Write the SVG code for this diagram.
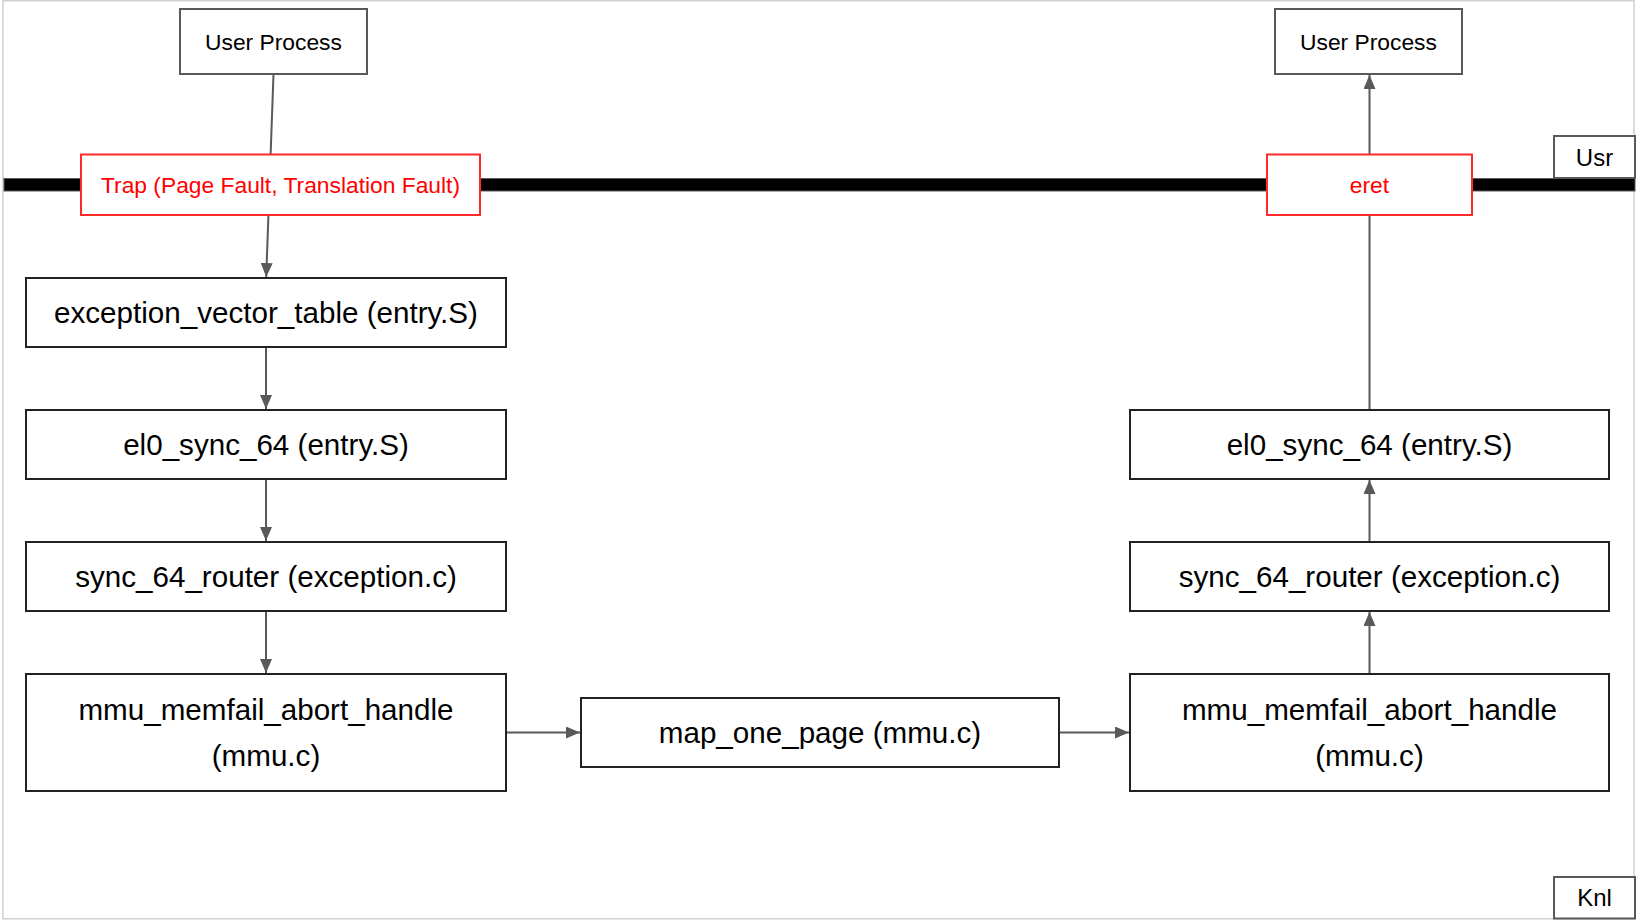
<svg xmlns="http://www.w3.org/2000/svg" width="1638" height="922" viewBox="0 0 1638 922">
<style>
  .bg { fill: #ffffff; stroke: #d0d0d0; stroke-width: 1.5; }
  .box { fill: #ffffff; stroke: #222222; stroke-width: 2; }
  .gbox { fill: #ffffff; stroke: #595959; stroke-width: 2; }
  .rbox { fill: #ffffff; stroke: #ff2a2a; stroke-width: 2; }
  .t { font-family: "Liberation Sans", Arial, sans-serif; font-size: 29.6px; fill: #000000; text-anchor: middle; }
  .ts { font-family: "Liberation Sans", Arial, sans-serif; font-size: 22.8px; fill: #000000; text-anchor: middle; }
  .tr { font-family: "Liberation Sans", Arial, sans-serif; font-size: 22.8px; fill: #ff0000; text-anchor: middle; }
  .tl { font-family: "Liberation Sans", Arial, sans-serif; font-size: 24px; fill: #000000; text-anchor: middle; }
  .edge { fill: none; stroke: #595959; stroke-width: 2; }
</style>
<defs>
  <marker id="arr" markerUnits="userSpaceOnUse" markerWidth="15" markerHeight="12" refX="14" refY="6" orient="auto">
    <path d="M0,0 L14,6 L0,12 z" fill="#595959"/>
  </marker>
</defs>

<rect class="bg" x="3" y="0.75" width="1631" height="918"/>

<g id="boundary">
  <rect x="4" y="178.5" width="1631" height="12.5" fill="#000000" stroke="#595959" stroke-width="1"/>
</g>

<g id="connectors">
  <line class="edge" x1="273.5" y1="74" x2="266.2" y2="277" marker-end="url(#arr)"/>
  <line class="edge" x1="266" y1="347" x2="266" y2="409" marker-end="url(#arr)"/>
  <line class="edge" x1="266" y1="479" x2="266" y2="541" marker-end="url(#arr)"/>
  <line class="edge" x1="266" y1="611" x2="266" y2="673" marker-end="url(#arr)"/>
  <line class="edge" x1="506" y1="732.5" x2="580" y2="732.5" marker-end="url(#arr)"/>
  <line class="edge" x1="1059" y1="732.5" x2="1129" y2="732.5" marker-end="url(#arr)"/>
  <line class="edge" x1="1369.5" y1="674" x2="1369.5" y2="612" marker-end="url(#arr)"/>
  <line class="edge" x1="1369.5" y1="542" x2="1369.5" y2="480" marker-end="url(#arr)"/>
  <line class="edge" x1="1369.5" y1="410" x2="1369.5" y2="75" marker-end="url(#arr)"/>
</g>

<g id="user-process-left">
  <rect class="gbox" x="180" y="9" width="187" height="65"/>
  <text class="ts" x="273.5" y="49.5">User Process</text>
</g>

<g id="trap">
  <rect class="rbox" x="81" y="154.5" width="399" height="60.5"/>
  <text class="tr" x="280.5" y="192.5">Trap (Page Fault, Translation Fault)</text>
</g>

<g id="exception-vector-table">
  <rect class="box" x="26" y="278" width="480" height="69"/>
  <text class="t" x="266" y="323">exception_vector_table (entry.S)</text>
</g>

<g id="el0-sync-left">
  <rect class="box" x="26" y="410" width="480" height="69"/>
  <text class="t" x="266" y="455">el0_sync_64 (entry.S)</text>
</g>

<g id="sync-router-left">
  <rect class="box" x="26" y="542" width="480" height="69"/>
  <text class="t" x="266" y="587">sync_64_router (exception.c)</text>
</g>

<g id="mmu-left">
  <rect class="box" x="26" y="674" width="480" height="117"/>
  <text class="t" x="266" y="720">mmu_memfail_abort_handle</text>
  <text class="t" x="266" y="766">(mmu.c)</text>
</g>

<g id="map-one-page">
  <rect class="box" x="581" y="698" width="478" height="69"/>
  <text class="t" x="820" y="743">map_one_page (mmu.c)</text>
</g>

<g id="mmu-right">
  <rect class="box" x="1130" y="674" width="479" height="117"/>
  <text class="t" x="1369.5" y="720">mmu_memfail_abort_handle</text>
  <text class="t" x="1369.5" y="766">(mmu.c)</text>
</g>

<g id="sync-router-right">
  <rect class="box" x="1130" y="542" width="479" height="69"/>
  <text class="t" x="1369.5" y="587">sync_64_router (exception.c)</text>
</g>

<g id="el0-sync-right">
  <rect class="box" x="1130" y="410" width="479" height="69"/>
  <text class="t" x="1369.5" y="455">el0_sync_64 (entry.S)</text>
</g>

<g id="eret">
  <rect class="rbox" x="1267" y="154.5" width="205" height="60.5"/>
  <text class="tr" x="1369.5" y="192.5">eret</text>
</g>

<g id="user-process-right">
  <rect class="gbox" x="1275" y="9" width="187" height="65"/>
  <text class="ts" x="1368.5" y="49.5">User Process</text>
</g>

<g id="usr-label">
  <rect class="gbox" x="1554" y="136" width="81" height="42"/>
  <text class="tl" x="1594.5" y="165.5">Usr</text>
</g>

<g id="knl-label">
  <rect class="gbox" x="1554" y="877" width="81" height="41.5"/>
  <text class="tl" x="1594.5" y="906">Knl</text>
</g>
</svg>
